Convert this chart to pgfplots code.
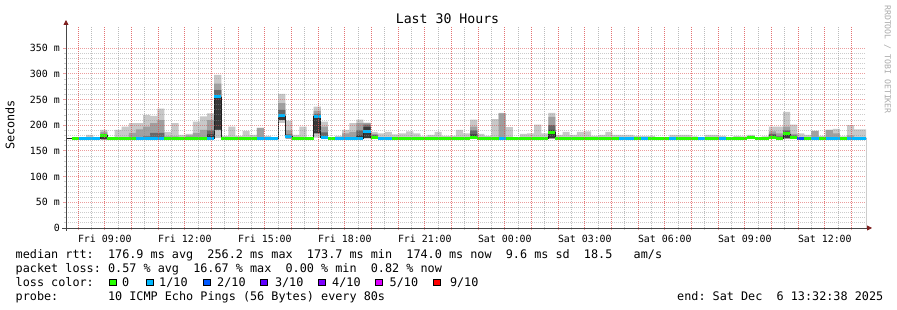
\documentclass[border=0pt]{standalone}
\usepackage{fontspec}
\setmainfont{DejaVu Sans Mono}
\usepackage{pgfplots}
\pgfplotsset{compat=1.18}
\usepackage{pgfplotstable}
\usetikzlibrary{arrows.meta}
\frenchspacing
\definecolor{lgreen}{HTML}{26FF00}
\definecolor{lblue}{HTML}{00B8FF}
\definecolor{lblue2}{HTML}{0059FF}
\definecolor{lpurple3}{HTML}{5E00FF}
\definecolor{lpurple4}{HTML}{7E00FF}
\definecolor{lmag}{HTML}{DD00FF}
\definecolor{lred}{HTML}{FF0000}
\definecolor{smokeA}{HTML}{C8C8C8}
\definecolor{smokeB}{HTML}{A0A0A0}
\definecolor{smokeC}{HTML}{686868}
\definecolor{smokeD}{HTML}{383838}
\definecolor{mgridc}{HTML}{DE5050}
\definecolor{gridc}{HTML}{8F8F8F}
\definecolor{axisc}{RGB}{70,70,70}
\definecolor{arrowc}{HTML}{7F1F1F}
\definecolor{wmark}{RGB}{170,170,170}
\pgfdeclareplotmark{band}{\pgfpathrectangle{\pgfqpoint{0pt}{-1.5pt}}{\pgfqpoint{7.111pt}{3pt}}\pgfusepathqfill}

% t = bin start (hours after Fri 00:00), med = median rtt (ms), loss class,
% lo/lo2 = lower smoke edges, u1..u4 = upper smoke edges (ms)
\pgfplotstableread{
t med loss lo lo2 u1 u2 u3 u4
7.500 174 g 173 173 174 174 174 175
7.767 174 g 173 173 174 174 174 176
8.033 175 b 173 173 175 175 175 177
8.300 175 b 173 173 175 175 175 181
8.567 175 b 173 173 175 175 175 177
8.833 180 g 172 172 181 183 187 191
9.100 174 g 173 173 174 174 174 175
9.367 174 g 173 173 174 174 177 191
9.633 174 g 173 173 174 174 177 197
9.900 174 g 173 173 174 174 185 204
10.167 175 b 173 173 175 175 192 204
10.433 175 b 173 173 175 178 197 220
10.700 175 b 173 173 175 185 204 218
10.967 175 b 173 173 175 185 210 232
11.233 174 g 173 173 174 174 178 187
11.500 174 g 173 173 174 174 178 204
11.767 174 g 173 173 174 174 174 181
12.033 174 g 173 173 174 174 180 183
12.300 174 g 173 173 174 174 185 207
12.567 174 g 173 173 174 174 191 217
12.833 175 b 173 173 182 190 210 223
13.100 255 b 175 191 256 268 281 298
13.367 174 g 173 173 174 174 174 179
13.633 174 g 173 173 174 174 174 197
13.900 174 g 173 173 174 174 174 179
14.167 174 g 173 173 174 174 174 189
14.433 174 g 173 173 174 174 174 181
14.700 175 b 173 173 175 175 195 195
14.967 175 b 173 173 175 175 175 179
15.233 175 b 173 173 175 175 175 175
15.500 218 b 204 210 219 230 243 261
15.767 178 b 174 174 178 182 190 209
16.033 174 g 173 173 174 174 176 181
16.300 174 g 173 173 174 174 174 197
16.567 174 g 173 173 174 174 174 174
16.833 217 b 176 184 218 222 228 236
17.100 176 b 173 173 176 186 197 207
17.367 174 g 173 173 174 174 174 174
17.633 175 b 173 173 175 175 175 179
17.900 175 b 173 173 175 175 184 191
18.167 175 b 173 173 175 175 187 204
18.433 175 b 173 173 180 190 204 211
18.700 187 b 174 175 196 201 204 205
18.967 177 g 173 173 179 181 183 187
19.233 175 b 173 173 175 175 175 184
19.500 175 b 173 173 175 175 175 187
19.767 174 g 173 173 174 174 174 182
20.033 174 g 173 173 174 174 174 184
20.300 174 g 173 173 174 174 174 188
20.567 174 g 173 173 174 174 174 184
20.833 174 g 173 173 174 174 174 178
21.100 174 g 173 173 174 174 174 181
21.367 174 g 173 173 174 174 174 187
21.633 174 g 173 173 174 174 174 179
21.900 174 g 173 173 174 174 174 179
22.167 174 g 173 173 174 174 174 191
22.433 174 g 173 173 174 174 174 184
22.700 177 g 173 173 182 190 197 211
22.967 174 g 173 173 174 174 174 183
23.233 174 g 173 173 174 174 174 179
23.500 174 g 173 173 174 174 174 212
23.767 175 b 173 173 175 175 223 224
24.033 174 g 173 173 174 174 174 196
24.300 174 g 173 173 174 174 174 177
24.567 174 g 173 173 174 174 174 183
24.833 174 g 173 173 174 174 174 184
25.100 174 g 173 173 174 174 174 201
25.367 174 g 173 173 174 174 174 184
25.633 186 g 174 174 191 200 216 224
25.900 174 g 173 173 174 174 174 181
26.167 174 g 173 173 174 174 174 187
26.433 174 g 173 173 174 174 174 181
26.700 174 g 173 173 174 174 174 187
26.967 174 g 173 173 174 174 174 188
27.233 174 g 173 173 174 174 174 179
27.500 174 g 173 173 174 174 174 181
27.767 174 g 173 173 174 174 174 187
28.033 174 g 173 173 174 174 174 181
28.300 175 b 173 173 175 175 175 181
28.567 175 b 173 173 175 175 175 181
28.833 174 g 173 173 174 174 174 179
29.100 175 b 173 173 175 175 175 179
29.367 174 g 173 173 174 174 174 179
29.633 174 g 173 173 174 174 174 177
29.900 174 g 173 173 174 174 174 175
30.167 175 b 173 173 175 175 175 181
30.433 174 g 173 173 174 174 174 181
30.700 174 g 173 173 174 174 174 181
30.967 174 g 173 173 174 174 174 178
31.233 175 b 173 173 175 175 175 177
31.500 174 g 173 173 174 174 174 181
31.767 174 g 173 173 174 174 174 181
32.033 175 b 173 173 175 175 175 179
32.300 174 g 173 173 174 174 174 177
32.567 174 g 173 173 174 174 174 179
32.833 174 g 173 173 174 174 174 178
33.100 176 g 173 173 176 176 176 181
33.367 174 g 173 173 174 174 174 177
33.633 174 g 173 173 174 174 174 178
33.900 176 g 173 173 180 183 188 197
34.167 174 g 173 173 174 178 184 197
34.433 183 g 174 174 187 190 197 226
34.700 177 g 173 173 177 180 183 201
34.967 175 d 173 173 175 175 175 184
35.233 174 g 173 173 174 174 174 181
35.500 175 b 173 173 175 175 189 189
35.767 174 g 173 173 174 174 174 179
36.033 175 b 173 173 175 175 191 191
36.300 175 b 173 173 175 175 184 193
36.567 174 g 173 173 174 174 174 178
36.833 175 b 173 173 175 175 180 200
37.100 175 b 173 173 175 175 175 192
37.367 175 b 173 173 175 175 175 192
37.633 175 b 173 173 175 175 175 192
}\rtt

\begin{document}
\begin{tikzpicture}
\fill[white] (0pt,0pt) rectangle (897pt,310pt);
\useasboundingbox (0pt,0pt) rectangle (897pt,310pt);
\begin{axis}[
  at={(66pt,82pt)}, anchor=south west,
  scale only axis, width=800pt, height=201pt,
  xmin=7.544, xmax=37.544, ymin=0, ymax=391,
  axis lines*=left,
  axis on top,
  clip marker paths=true,
  axis line style={draw=axisc, line width=0.8pt},
  x axis line style={-{Triangle[length=5pt,width=5pt,color=arrowc,fill=arrowc]}, shorten >=-6pt, shorten <=-4pt},
  y axis line style={-{Triangle[length=5pt,width=5pt,color=arrowc,fill=arrowc]}, shorten >=-7pt, shorten <=-3pt},
  xtick={8,9,...,37},
  xticklabels={,Fri 09:00,,,Fri 12:00,,,Fri 15:00,,,Fri 18:00,,,Fri 21:00,,,Sat 00:00,,,Sat 03:00,,,Sat 06:00,,,Sat 09:00,,,Sat 12:00,},
  ytick={0,50,...,350},
  yticklabels={0,50 m,100 m,150 m,200 m,250 m,300 m,350 m},
  minor x tick num=1,
  minor y tick num=4,
  xmajorgrids=false, xminorgrids=false, ymajorgrids=true, yminorgrids=true,
  major grid style={draw=mgridc, draw opacity=0.55, line width=0.9pt, dash pattern=on 1pt off 1pt},
  minor grid style={draw=gridc, draw opacity=0.45, line width=0.9pt, dash pattern=on 1pt off 1pt},
  tick align=outside,
  major tick length=2.5pt,
  minor tick length=2pt,
  major tick style={draw=mgridc, draw opacity=0.55, line width=0.8pt},
  minor tick style={draw=gridc, draw opacity=0.45, line width=0.8pt},
  xticklabel style={font=\fontsize{9.9}{12}\selectfont, inner sep=0pt, anchor=north, yshift=-4pt},
  yticklabel style={font=\fontsize{9.9}{12}\selectfont, inner sep=0pt, anchor=east, xshift=-3.5pt},
  scatter/classes={
    g={mark=band, fill=lgreen, draw=none},
    b={mark=band, fill=lblue, draw=none},
    d={mark=band, fill=lblue2, draw=none}},
]
\addplot[ybar interval, fill=smokeA, draw=none] table[x=t, y=u4] {\rtt};
\addplot[ybar interval, fill=smokeB, draw=none] table[x=t, y=u3] {\rtt};
\addplot[ybar interval, fill=smokeC, draw=none] table[x=t, y=u2] {\rtt};
\addplot[ybar interval, fill=smokeD, draw=none] table[x=t, y=u1] {\rtt};
\addplot[ybar interval, fill=smokeA, draw=none] table[x=t, y=lo2] {\rtt};
\addplot[ybar interval, fill=white, draw=none] table[x=t, y=lo] {\rtt};
\addplot[const plot, draw=black!88, line width=0.8pt] table[x=t, y=med] {\rtt};
\addplot[scatter, only marks, scatter src=explicit symbolic] table[x=t, y=med, meta=loss] {\rtt};
% vertical grid (hourly red, half-hourly grey)
\pgfplotsinvokeforeach{8,...,37}{
  \draw[draw=mgridc, draw opacity=0.8, line width=1pt, dash pattern=on 1pt off 1pt] (axis cs:#1,0) -- (axis cs:#1,391);
  \draw[draw=gridc, draw opacity=0.6, line width=1pt, dash pattern=on 1pt off 1pt] (axis cs:#1-0.5,0) -- (axis cs:#1-0.5,391);
}
\end{axis}

\node[font=\fontsize{13.2}{15}\selectfont] at (447.5pt,291pt) {Last 30 Hours};
\node[font=\fontsize{11.8}{14}\selectfont, rotate=90] at (10pt,185pt) {Seconds};
\node[font=\fontsize{8.2}{10}\selectfont, text=wmark, rotate=-90, anchor=west, inner sep=0pt] at (887.5pt,305pt) {RRDTOOL / TOBI OETIKER};

\begin{scope}[every node/.style={font=\fontsize{11.8}{14}\selectfont, anchor=base west, inner sep=0pt}]
\node at (15.5pt,51.7pt) {median rtt:~~176.9 ms avg~~256.2 ms max~~173.7 ms min~~174.0 ms now~~9.6 ms sd~~18.5~~~am/s};
\node at (15.5pt,37.6pt) {packet loss: 0.57 \% avg~~16.67 \% max~~0.00 \% min~~0.82 \% now};
\node at (15.5pt,23.5pt) {loss color:};
\node at (15.5pt,9.4pt) {probe:~~~~~~~10 ICMP Echo Pings (56 Bytes) every 80s};
\node at (677pt,9.4pt) {end: Sat Dec~~6 13:32:38 2025};
\node at (122pt,23.5pt) {0};
\node at (159pt,23.5pt) {1/10};
\node at (217pt,23.5pt) {2/10};
\node at (274.8pt,23.5pt) {3/10};
\node at (332pt,23.5pt) {4/10};
\node at (389.5pt,23.5pt) {5/10};
\node at (449.8pt,23.5pt) {9/10};
\end{scope}
\foreach \bx/\col in {109/lgreen,146/lblue,203.3/lblue2,260.8/lpurple3,318.2/lpurple4,375.6/lmag,433/lred}{
  \draw[black, line width=0.8pt, fill=\col] (\bx pt,24.2pt) rectangle ++(7pt,6.6pt);
}
\end{tikzpicture}
\end{document}
